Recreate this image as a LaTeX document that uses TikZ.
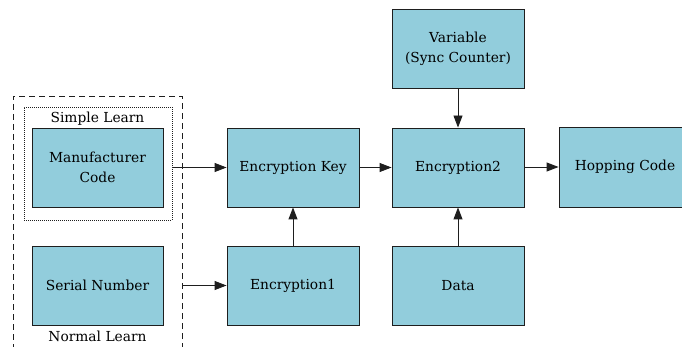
\documentclass[tikz,border=0pt]{standalone}
\usepackage{fontspec}
\setmainfont{DejaVu Serif}
\usetikzlibrary{arrows.meta}
\definecolor{boxfill}{RGB}{146,205,220}
\definecolor{boxline}{RGB}{30,30,30}
\begin{document}
\begin{tikzpicture}[x=1pt,y=-1pt,
  blk/.style={draw=boxline,line width=0.9pt,fill=boxfill,minimum width=131pt,minimum height=79pt,inner sep=0pt,align=center,font=\rmfamily\fontsize{13.8}{20}\selectfont},
  lbl/.style={inner sep=0pt,font=\rmfamily\fontsize{13.8}{20}\selectfont},
  conn/.style={line width=0.9pt,draw=boxline,-{Triangle[length=12pt,width=9pt]}},
  dashbox/.style={draw=boxline,line width=0.9pt,dash pattern=on 6pt off 4pt,minimum width=169pt,minimum height=264pt,inner sep=0pt},
  dotbox/.style={draw=boxline,line width=0.9pt,dash pattern=on 1pt off 1pt,minimum width=148pt,minimum height=113pt,inner sep=0pt}]
\useasboundingbox (0,0) rectangle (682,347);
\clip (0,0) rectangle (682,347);
\node[dashbox] (learn) at (97.5,228) {};
\node[dotbox] (simple) at (98,163.5) {};
\node[lbl] (simplelbl) at (97.5,119) {Simple Learn};
\node[lbl] (normallbl) at (97.5,336) {Normal Learn};
\node[blk] (manu) at (97.5,167.5) {Manufacturer\\Code};
\node[blk] (serial) at (97.5,285.5) {Serial Number};
\node[blk,minimum width=132pt] (enckey) at (293,167.5) {Encryption Key};
\node[blk,minimum width=132pt] (enc1) at (293,285.5) {Encryption1};
\node[blk,minimum width=132pt] (enc2) at (458,167.5) {Encryption2};
\node[blk,minimum width=132pt] (data) at (458,285.5) {Data};
\node[blk,minimum width=132pt] (var) at (458,48.5) {Variable\\(Sync Counter)};
\node[blk,minimum width=132pt,minimum height=80pt] (hop) at (625,167) {Hopping Code};
\coordinate (serialout) at (learn.east |- enc1.west);
\draw[conn] (simple.east |- enckey.west) -- (enckey.west);
\draw[conn] (serialout) -- (enc1.west);
\draw[conn] (enc1.north) -- (enckey.south);
\draw[conn] (enckey.east) -- (enc2.west);
\draw[conn] (var.south) -- (enc2.north);
\draw[conn] (data.north) -- (enc2.south);
\draw[conn] (enc2.east |- hop.west) -- (hop.west);
\end{tikzpicture}
\end{document}
